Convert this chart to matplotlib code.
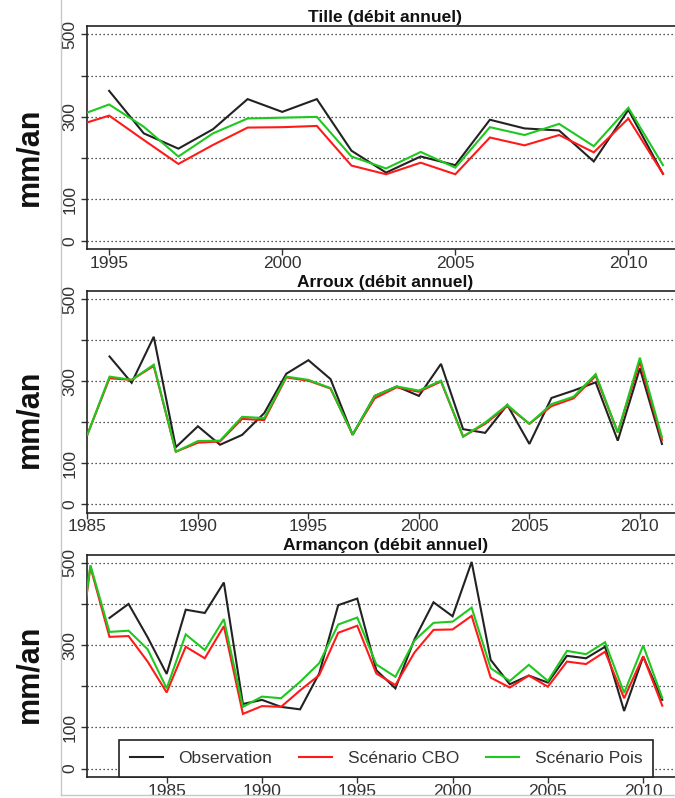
import numpy as np
import matplotlib
matplotlib.use("Agg")
import matplotlib.pyplot as plt
from matplotlib.lines import Line2D
from matplotlib import font_manager as fm

# choose the regular (non-narrow) Liberation Sans files explicitly
reg_path, bold_path = None, None
for f in fm.findSystemFonts():
    name = f.split('/')[-1]
    if name == 'LiberationSans-Regular.ttf':
        reg_path = f
    elif name == 'LiberationSans-Bold.ttf':
        bold_path = f
if reg_path:
    fm.fontManager.addfont(reg_path)
if bold_path:
    fm.fontManager.addfont(bold_path)
plt.rcParams['font.family'] = ['Liberation Sans', 'DejaVu Sans']


def fp(size, bold=False):
    path = bold_path if bold else reg_path
    if path:
        return fm.FontProperties(fname=path, size=size)
    return fm.FontProperties(family='Liberation Sans', size=size,
                             weight='bold' if bold else 'normal')


nan = np.nan

# ---------------- Data ----------------
tille_years = list(range(1994, 2012))
tille_obs = [nan, 363, 260, 223, 270, 343, 312, 343, 218, 165, 204, 183, 293, 272, 267, 192, 317, 162]
tille_cbo = [277, 303, 244, 186, 232, 274, 275, 278, 182, 161, 189, 161, 250, 231, 256, 214, 296, 162]
tille_pois = [299, 330, 276, 204, 260, 296, 298, 300, 204, 175, 215, 177, 275, 256, 283, 229, 322, 183]

arroux_years = list(range(1985, 2012))
arroux_obs = [nan, 360, 296, 408, 139, 190, 145, 169, 222, 318, 351, 305, 169, 264,
              287, 264, 342, 183, 174, 242, 147, 259, 277, 297, 155, 331, 147]
arroux_cbo = [170, 307, 303, 337, 128, 150, 153, 208, 205, 309, 301, 282, 170, 258,
              285, 274, 299, 165, 196, 239, 196, 239, 258, 313, 175, 347, 157]
arroux_pois = [170, 311, 303, 340, 128, 154, 155, 213, 210, 311, 303, 283, 170, 264,
               287, 277, 301, 165, 199, 242, 196, 244, 262, 317, 175, 357, 163]

armancon_years = list(range(1980, 2012))
armancon_obs = [nan, nan, 366, 400, 319, 230, 386, 378, 452, 157, 167, 150, 144, 231, 397, 413,
                239, 195, 314, 404, 370, 502, 264, 205, 226, 209, 274, 268, 296, 140, 272, 167]
armancon_cbo = [145, 490, 320, 322, 260, 185, 296, 268, 346, 133, 152, 150, 190, 227, 330, 347,
                231, 203, 282, 337, 338, 371, 221, 197, 226, 199, 260, 254, 284, 171, 273, 153]
armancon_pois = [150, 494, 332, 335, 290, 195, 326, 288, 363, 150, 175, 171, 211, 256, 350, 367,
                 253, 223, 311, 354, 357, 391, 244, 213, 252, 213, 286, 278, 307, 184, 299, 172]

titles = ["Tille (débit annuel)", "Arroux (débit annuel)", "Armançon (débit annuel)"]
series_labels = ["Observation", "Scénario CBO", "Scénario Pois"]
ytick_vals = [0, 100, 200, 300, 400, 500]
ytick_labels = ["0", "100", "", "300", "", "500"]

# ---------------- Layout ----------------
W, H = 675, 798
fig = plt.figure(figsize=(W / 100, H / 100), dpi=100)

left_px, right_px = 87, 683.4
panels = [
    dict(top=26, bottom=249, xlim=(1994.36, 2011.59), xticks=[1995, 2000, 2005, 2010],
         years=tille_years, obs=tille_obs, cbo=tille_cbo, pois=tille_pois, ylab_y=157),
    dict(top=290.8, bottom=512.5, xlim=(1984.98, 2011.97), xticks=[1985, 1990, 1995, 2000, 2005, 2010],
         years=arroux_years, obs=arroux_obs, cbo=arroux_cbo, pois=arroux_pois, ylab_y=419),
    dict(top=554.5, bottom=776.9, xlim=(1980.82, 2012.11), xticks=[1985, 1990, 1995, 2000, 2005, 2010],
         years=armancon_years, obs=armancon_obs, cbo=armancon_cbo, pois=armancon_pois, ylab_y=674),
]

colors = ['#222222', '#FF1A1A', '#1EC81E']
txtcol = '#333333'
FS = 12.5

axes = []
for i, p in enumerate(panels):
    ax = fig.add_axes([left_px / W, 1 - p['bottom'] / H,
                       (right_px - left_px) / W, (p['bottom'] - p['top']) / H])
    axes.append(ax)
    for yv in ytick_vals:
        ax.axhline(yv, color='#222222', lw=0.9, ls=(0, (1, 2.2)), zorder=1)
    lines = []
    for vals, c in zip([p['obs'], p['cbo'], p['pois']], colors):
        ln, = ax.plot(p['years'], vals, color=c, lw=1.5, zorder=3, solid_joinstyle='miter')
        lines.append(ln)
    ax.set_xlim(*p['xlim'])
    ax.set_ylim(-20, 520)
    ax.set_yticks(ytick_vals)
    ax.set_yticklabels(ytick_labels, rotation=90, va='center', color=txtcol,
                       fontproperties=fp(FS))
    ax.set_xticks(p['xticks'])
    ax.set_xticklabels([str(t) for t in p['xticks']], color=txtcol, fontproperties=fp(FS))
    ax.tick_params(axis='y', length=4, width=1, pad=3, color='#333333')
    ax.tick_params(axis='x', length=4, width=1, pad=1, color='#333333')
    for s in ['top', 'left', 'bottom', 'right']:
        ax.spines[s].set_linewidth(1.2)
        ax.spines[s].set_color('#222222')
    ax.set_title(titles[i], fontproperties=fp(FS, True), pad=3, color='#111111')
    fig.text(29 / W, 1 - p['ylab_y'] / H, 'mm/an', rotation=90, fontproperties=fp(22, True),
             ha='center', va='center', color='#111111')
    if i == 2:
        leg_x0 = (119 - left_px) / (right_px - left_px)
        leg_x1 = (653.3 - left_px) / (right_px - left_px)
        leg_h = (p['bottom'] - 734) / (p['bottom'] - p['top'])
        leg = ax.legend(lines, series_labels, loc='lower left', ncol=3,
                        bbox_to_anchor=(leg_x0, 0, leg_x1 - leg_x0, leg_h), mode='expand',
                        borderaxespad=0, prop=fp(FS), frameon=True, fancybox=False,
                        framealpha=1, edgecolor='#222222', handlelength=1.9,
                        handletextpad=0.9, borderpad=0.62, labelcolor=txtcol)
        leg.get_frame().set_linewidth(1.2)
        leg.set_zorder(5)

# light grey border lines of the original screenshot
fig.add_artist(Line2D([61 / W, 61 / W], [1 - 795 / H, 1], color='#c8c8c8', lw=1))
fig.add_artist(Line2D([61 / W, 1], [1 - 795 / H, 1 - 795 / H], color='#c8c8c8', lw=1))

fig.savefig('out.png', dpi=100)
